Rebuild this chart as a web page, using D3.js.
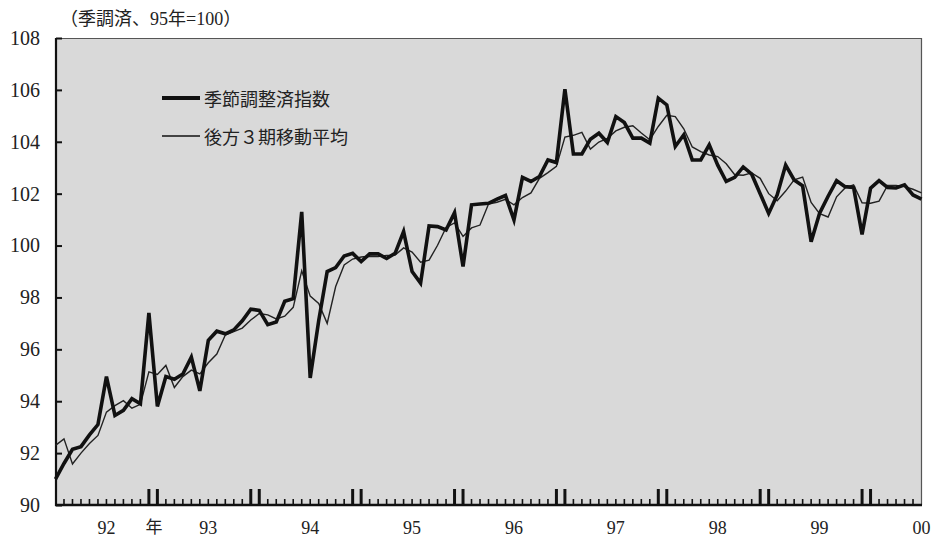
<!DOCTYPE html>
<html>
<head>
<meta charset="utf-8">
<script src="https://cdn.jsdelivr.net/npm/d3@7"></script>
<style>
  body { margin: 0; background: #fff; }
  text { font-family: "Liberation Serif", "DejaVu Serif", "Noto Sans CJK JP", serif; fill: #222; }
</style>
</head>
<body>
<svg width="931" height="542"></svg>
<script>
// 季節調整済指数 (thick) – one value per month, 92年初 .. 00年
const saIndex = [
  91.0, 91.6, 92.15, 92.25, 92.7, 93.1, 94.95, 93.45, 93.65, 94.1, 93.9, 97.4,
  93.8, 94.95, 94.85, 95.05, 95.7, 94.4, 96.35, 96.7, 96.6, 96.75, 97.1, 97.55,
  97.5, 96.95, 97.05, 97.85, 97.95, 101.3, 94.9, 97.1, 99.0, 99.15, 99.6, 99.7,
  99.38, 99.68, 99.68, 99.5, 99.7, 100.54, 99.0, 98.55, 100.76, 100.73, 100.6, 101.27,
  99.19, 101.57, 101.6, 101.63, 101.79, 101.93, 100.99, 102.63, 102.47, 102.66, 103.3, 103.2,
  106.03, 103.53, 103.53, 104.1, 104.33, 103.97, 104.97, 104.74, 104.14, 104.14, 103.95, 105.68,
  105.42, 103.82, 104.27, 103.3, 103.3, 103.88, 103.1, 102.47, 102.63, 103.03, 102.75, 102.0,
  101.24, 101.95, 103.1, 102.53, 102.3, 100.15, 101.25, 101.9, 102.5, 102.27, 102.24, 100.43,
  102.21, 102.5, 102.24, 102.22, 102.34, 101.95, 101.79
];

// 後方３期移動平均 (thin)
const movAvg = [
  92.3, 92.55, 91.58, 92.0, 92.37, 92.68, 93.58, 93.83, 94.02, 93.73, 93.88, 95.13,
  95.03, 95.38, 94.53, 94.95, 95.2, 95.05, 95.48, 95.82, 96.55, 96.68, 96.82, 97.13,
  97.38, 97.33, 97.17, 97.28, 97.62, 99.03, 98.05, 97.77, 97.0, 98.42, 99.25, 99.48,
  99.56, 99.59, 99.58, 99.62, 99.63, 99.91, 99.75, 99.36, 99.44, 100.01, 100.7, 100.87,
  100.35, 100.68, 100.79, 101.6, 101.67, 101.78, 101.57, 101.85, 102.03, 102.59, 102.81, 103.05,
  104.18, 104.25, 104.36, 103.72, 103.99, 104.13, 104.42, 104.56, 104.62, 104.34, 104.08, 104.59,
  105.02, 104.97, 104.5, 103.8, 103.62, 103.49, 103.43, 103.15, 102.73, 102.71, 102.8, 102.59,
  102.0, 101.73, 102.1, 102.53, 102.64, 101.66, 101.23, 101.1, 101.88, 102.22, 102.34, 101.65,
  101.63, 101.71, 102.32, 102.32, 102.27, 102.17, 102.03
];

const yearLabels = ["92", "93", "94", "95", "96", "97", "98", "99", "00"];
const yTicks = [90, 92, 94, 96, 98, 100, 102, 104, 106, 108];
const legendNames = ["季節調整済指数", "後方３期移動平均"];
const unitNote = "（季調済、95年=100）";

const svg = d3.select("svg");
const plotL = 56, plotR = 922, plotT = 38, plotB = 505;
const nMonths = saIndex.length;

// x: month index, y: index value
const x = d3.scaleLinear().domain([0, nMonths - 1]).range([55.5, 921.5]);
const y = d3.scaleLinear().domain([90, 108]).range([plotB, plotT]);

// plot background
svg.append("rect")
  .attr("x", plotL).attr("y", plotT)
  .attr("width", plotR - plotL).attr("height", plotB - plotT)
  .attr("fill", "#d9d9d9");

// thin top and right frame
svg.append("path")
  .attr("d", `M${plotL},${plotT + 0.5}H${plotR - 0.5}V${plotB}`)
  .attr("fill", "none").attr("stroke", "#555").attr("stroke-width", 1.2);

// y axis
const yAxis = d3.axisLeft(y)
  .tickValues(yTicks)
  .tickSize(-6)
  .tickPadding(16)
  .tickFormat(d3.format("d"));
const gy = svg.append("g").attr("transform", `translate(${plotL},0)`).call(yAxis);
gy.select(".domain").remove();
gy.selectAll("line").attr("stroke", "#111").attr("stroke-width", 2);
gy.selectAll("text")
  .style("font-family", '"Liberation Serif", "DejaVu Serif", serif')
  .style("font-size", "20px").attr("fill", "#2a2a2a");

// month ticks on x axis (double tall ticks at the year change)
const months = d3.range(1, nMonths - 1);
svg.append("g").selectAll("line")
  .data(months)
  .enter()
  .append("line")
  .attr("x1", d => x(d)).attr("x2", d => x(d))
  .attr("y1", plotB)
  .attr("y2", d => (d % 12 === 11 || d % 12 === 0) ? plotB - 16 : plotB - 6)
  .attr("stroke", "#111")
  .attr("stroke-width", d => (d % 12 === 11 || d % 12 === 0) ? 3 : 1.6);

// year labels centred on each year
svg.append("g").selectAll("text")
  .data(yearLabels)
  .enter()
  .append("text")
  .attr("x", (d, i) => x(6 + i * 12))
  .attr("y", 534)
  .attr("text-anchor", "middle")
  .style("font-size", "18px")
  .text(d => d);

svg.append("text")
  .attr("x", x(11.6)).attr("y", 533)
  .attr("text-anchor", "middle")
  .style("font-family", '"Noto Sans CJK JP", sans-serif')
  .style("font-size", "17px")
  .text("年");

// axes lines
svg.append("line")
  .attr("x1", plotL).attr("x2", plotL).attr("y1", plotT).attr("y2", plotB + 1)
  .attr("stroke", "#111").attr("stroke-width", 2.2);
svg.append("line")
  .attr("x1", plotL - 1).attr("x2", plotR).attr("y1", plotB).attr("y2", plotB)
  .attr("stroke", "#111").attr("stroke-width", 2.4);

// series
const line = d3.line()
  .x((d, i) => x(i))
  .y(d => y(d));

svg.append("path")
  .datum(movAvg)
  .attr("d", line)
  .attr("fill", "none")
  .attr("stroke", "#222")
  .attr("stroke-width", 1.4)
  .attr("stroke-linejoin", "miter");

svg.append("path")
  .datum(saIndex)
  .attr("d", line)
  .attr("fill", "none")
  .attr("stroke", "#111")
  .attr("stroke-width", 3.6)
  .attr("stroke-linejoin", "miter");

// legend
const legend = svg.append("g");
[4, 1.4].forEach((w, i) => {
  const ly = 98 + i * 38;
  legend.append("line")
    .attr("x1", 162).attr("x2", 200).attr("y1", ly).attr("y2", ly)
    .attr("stroke", "#111").attr("stroke-width", w);
  legend.append("text")
    .attr("x", 204).attr("y", ly)
    .attr("dominant-baseline", "central")
    .style("font-family", '"Noto Sans CJK JP", sans-serif')
    .style("font-size", "18px")
    .text(legendNames[i]);
});

// unit note
svg.append("text")
  .attr("x", 60).attr("y", 19)
  .attr("dominant-baseline", "central")
  .style("font-size", "18px")
  .text(unitNote);
</script>
</body>
</html>
